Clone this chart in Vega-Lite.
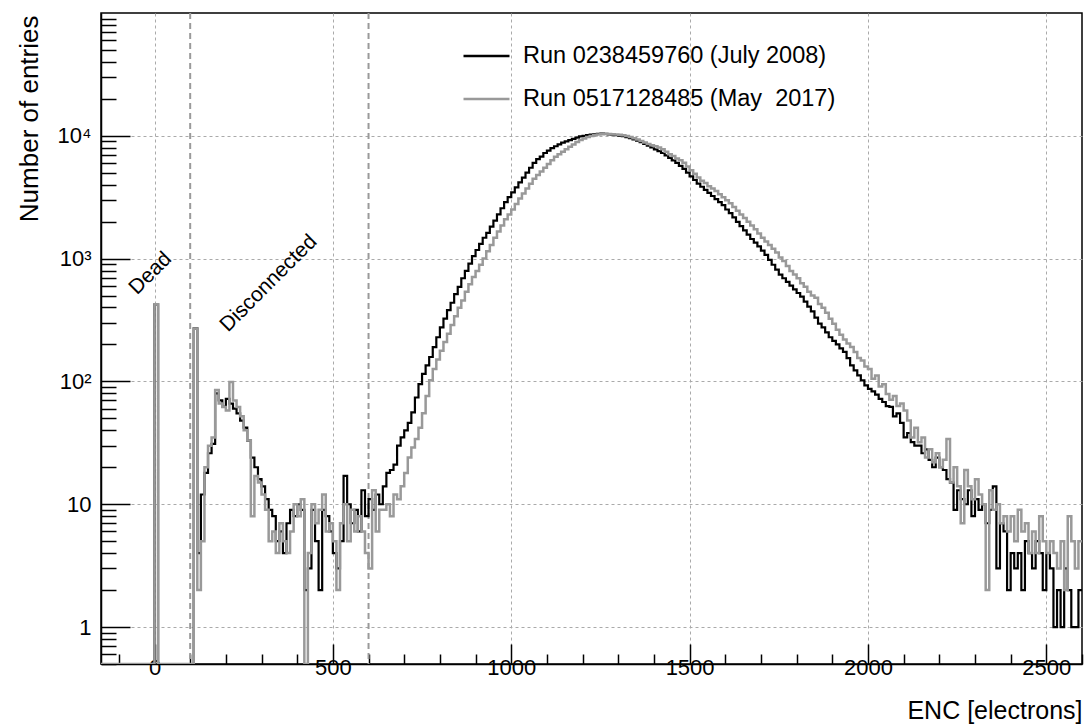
{
  "$schema": "https://vega.github.io/schema/vega-lite/v6.json",
  "width": 981,
  "height": 651,
  "autosize": {"type": "none"},
  "padding": {"left": 101, "top": 13, "right": 4, "bottom": 62},
  "background": "white",
  "config": {
    "font": "Liberation Sans",
    "view": {"stroke": "black", "strokeWidth": 1.5},
    "axis": {"labelFont": "Liberation Sans", "titleFont": "Liberation Sans", "labelColor": "black", "titleColor": "black", "titleFontWeight": "normal", "tickColor": "black", "domainColor": "black"},
    "legend": {"labelFont": "Liberation Sans", "labelColor": "black"}
  },
  "datasets": {
    "hist": [
      {"enc": -150, "a": 0, "b": 0},
      {"enc": 0, "a": 424, "b": 424},
      {"enc": 10, "a": 0, "b": 0},
      {"enc": 110, "a": 270, "b": 270},
      {"enc": 120, "a": 4, "b": 2},
      {"enc": 130, "a": 12, "b": 5},
      {"enc": 140, "a": 18, "b": 20},
      {"enc": 150, "a": 26, "b": 30},
      {"enc": 160, "a": 31, "b": 35},
      {"enc": 170, "a": 80, "b": 85},
      {"enc": 180, "a": 70, "b": 66},
      {"enc": 190, "a": 62, "b": 62},
      {"enc": 200, "a": 72, "b": 58},
      {"enc": 210, "a": 66, "b": 99},
      {"enc": 220, "a": 60, "b": 70},
      {"enc": 230, "a": 55, "b": 62},
      {"enc": 240, "a": 48, "b": 52},
      {"enc": 250, "a": 42, "b": 40},
      {"enc": 260, "a": 33, "b": 33},
      {"enc": 270, "a": 24, "b": 8},
      {"enc": 280, "a": 20, "b": 17},
      {"enc": 290, "a": 16, "b": 15},
      {"enc": 300, "a": 14, "b": 12},
      {"enc": 310, "a": 11, "b": 9},
      {"enc": 320, "a": 9, "b": 5},
      {"enc": 330, "a": 8, "b": 6},
      {"enc": 340, "a": 5, "b": 4},
      {"enc": 350, "a": 6, "b": 7},
      {"enc": 360, "a": 4, "b": 5},
      {"enc": 370, "a": 7, "b": 4},
      {"enc": 380, "a": 9, "b": 6},
      {"enc": 390, "a": 8, "b": 10},
      {"enc": 400, "a": 10, "b": 8},
      {"enc": 410, "a": 9, "b": 11},
      {"enc": 420, "a": 2, "b": 0},
      {"enc": 430, "a": 3, "b": 4},
      {"enc": 440, "a": 9, "b": 10},
      {"enc": 450, "a": 5, "b": 7},
      {"enc": 460, "a": 2, "b": 9},
      {"enc": 470, "a": 9, "b": 12},
      {"enc": 480, "a": 8, "b": 6},
      {"enc": 490, "a": 6, "b": 7},
      {"enc": 500, "a": 4, "b": 5},
      {"enc": 510, "a": 3, "b": 2},
      {"enc": 520, "a": 5, "b": 7},
      {"enc": 530, "a": 17, "b": 10},
      {"enc": 540, "a": 10, "b": 5},
      {"enc": 550, "a": 7, "b": 9},
      {"enc": 560, "a": 9, "b": 6},
      {"enc": 570, "a": 6, "b": 8},
      {"enc": 580, "a": 13, "b": 6},
      {"enc": 590, "a": 8, "b": 4},
      {"enc": 600, "a": 11, "b": 3},
      {"enc": 610, "a": 9, "b": 13},
      {"enc": 620, "a": 12, "b": 6},
      {"enc": 630, "a": 10, "b": 9},
      {"enc": 640, "a": 14, "b": 9},
      {"enc": 650, "a": 18, "b": 10},
      {"enc": 660, "a": 19, "b": 8},
      {"enc": 670, "a": 21, "b": 12},
      {"enc": 680, "a": 30, "b": 11},
      {"enc": 690, "a": 35, "b": 14},
      {"enc": 700, "a": 40, "b": 18},
      {"enc": 710, "a": 46, "b": 24},
      {"enc": 720, "a": 56, "b": 29},
      {"enc": 730, "a": 74, "b": 34},
      {"enc": 740, "a": 95, "b": 42},
      {"enc": 750, "a": 115, "b": 55},
      {"enc": 760, "a": 135, "b": 76},
      {"enc": 770, "a": 158, "b": 102},
      {"enc": 780, "a": 190, "b": 126},
      {"enc": 790, "a": 229, "b": 151},
      {"enc": 800, "a": 275, "b": 178},
      {"enc": 810, "a": 324, "b": 209},
      {"enc": 820, "a": 380, "b": 245},
      {"enc": 830, "a": 437, "b": 288},
      {"enc": 840, "a": 513, "b": 339},
      {"enc": 850, "a": 589, "b": 398},
      {"enc": 860, "a": 692, "b": 457},
      {"enc": 870, "a": 794, "b": 537},
      {"enc": 880, "a": 912, "b": 617},
      {"enc": 890, "a": 1047, "b": 708},
      {"enc": 900, "a": 1175, "b": 794},
      {"enc": 910, "a": 1318, "b": 891},
      {"enc": 920, "a": 1479, "b": 1000},
      {"enc": 930, "a": 1622, "b": 1148},
      {"enc": 940, "a": 1820, "b": 1288},
      {"enc": 950, "a": 2042, "b": 1479},
      {"enc": 960, "a": 2291, "b": 1660},
      {"enc": 970, "a": 2570, "b": 1862},
      {"enc": 980, "a": 2884, "b": 2089},
      {"enc": 990, "a": 3162, "b": 2291},
      {"enc": 1000, "a": 3467, "b": 2512},
      {"enc": 1010, "a": 3802, "b": 2786},
      {"enc": 1020, "a": 4169, "b": 3090},
      {"enc": 1030, "a": 4571, "b": 3388},
      {"enc": 1040, "a": 5012, "b": 3715},
      {"enc": 1050, "a": 5495, "b": 4074},
      {"enc": 1060, "a": 6026, "b": 4467},
      {"enc": 1070, "a": 6457, "b": 4786},
      {"enc": 1080, "a": 6761, "b": 5129},
      {"enc": 1090, "a": 7244, "b": 5495},
      {"enc": 1100, "a": 7586, "b": 5888},
      {"enc": 1110, "a": 7943, "b": 6310},
      {"enc": 1120, "a": 8222, "b": 6761},
      {"enc": 1130, "a": 8511, "b": 7079},
      {"enc": 1140, "a": 8810, "b": 7413},
      {"enc": 1150, "a": 9016, "b": 7762},
      {"enc": 1160, "a": 9226, "b": 8128},
      {"enc": 1170, "a": 9441, "b": 8511},
      {"enc": 1180, "a": 9661, "b": 8913},
      {"enc": 1190, "a": 9886, "b": 9226},
      {"enc": 1200, "a": 10000, "b": 9506},
      {"enc": 1210, "a": 10116, "b": 9772},
      {"enc": 1220, "a": 10233, "b": 9954},
      {"enc": 1230, "a": 10280, "b": 10116},
      {"enc": 1240, "a": 10350, "b": 10233},
      {"enc": 1250, "a": 10400, "b": 10304},
      {"enc": 1260, "a": 10375, "b": 10350},
      {"enc": 1270, "a": 10280, "b": 10327},
      {"enc": 1280, "a": 10230, "b": 10300},
      {"enc": 1290, "a": 10140, "b": 10256},
      {"enc": 1300, "a": 10050, "b": 10186},
      {"enc": 1310, "a": 9950, "b": 10093},
      {"enc": 1320, "a": 9772, "b": 9954},
      {"enc": 1330, "a": 9550, "b": 9772},
      {"enc": 1340, "a": 9333, "b": 9550},
      {"enc": 1350, "a": 9120, "b": 9333},
      {"enc": 1360, "a": 8870, "b": 9078},
      {"enc": 1370, "a": 8610, "b": 8831},
      {"enc": 1380, "a": 8318, "b": 8590},
      {"enc": 1390, "a": 8035, "b": 8395},
      {"enc": 1400, "a": 7762, "b": 8204},
      {"enc": 1410, "a": 7500, "b": 8017},
      {"enc": 1420, "a": 7244, "b": 7762},
      {"enc": 1430, "a": 6918, "b": 7413},
      {"enc": 1440, "a": 6607, "b": 7079},
      {"enc": 1450, "a": 6310, "b": 6839},
      {"enc": 1460, "a": 6026, "b": 6531},
      {"enc": 1470, "a": 5689, "b": 6310},
      {"enc": 1480, "a": 5370, "b": 6026},
      {"enc": 1490, "a": 5012, "b": 5623},
      {"enc": 1500, "a": 4677, "b": 5248},
      {"enc": 1510, "a": 4365, "b": 4898},
      {"enc": 1520, "a": 4074, "b": 4571},
      {"enc": 1530, "a": 3846, "b": 4315},
      {"enc": 1540, "a": 3631, "b": 4121},
      {"enc": 1550, "a": 3428, "b": 3890},
      {"enc": 1560, "a": 3236, "b": 3715},
      {"enc": 1570, "a": 3055, "b": 3548},
      {"enc": 1580, "a": 2884, "b": 3350},
      {"enc": 1590, "a": 2723, "b": 3162},
      {"enc": 1600, "a": 2512, "b": 2985},
      {"enc": 1610, "a": 2344, "b": 2818},
      {"enc": 1620, "a": 2163, "b": 2630},
      {"enc": 1630, "a": 1995, "b": 2455},
      {"enc": 1640, "a": 1841, "b": 2291},
      {"enc": 1650, "a": 1698, "b": 2138},
      {"enc": 1660, "a": 1567, "b": 1995},
      {"enc": 1670, "a": 1445, "b": 1862},
      {"enc": 1680, "a": 1349, "b": 1738},
      {"enc": 1690, "a": 1259, "b": 1603},
      {"enc": 1700, "a": 1161, "b": 1479},
      {"enc": 1710, "a": 1072, "b": 1380},
      {"enc": 1720, "a": 977, "b": 1288},
      {"enc": 1730, "a": 891, "b": 1202},
      {"enc": 1740, "a": 813, "b": 1122},
      {"enc": 1750, "a": 741, "b": 1023},
      {"enc": 1760, "a": 692, "b": 955},
      {"enc": 1770, "a": 646, "b": 871},
      {"enc": 1780, "a": 603, "b": 794},
      {"enc": 1790, "a": 562, "b": 741},
      {"enc": 1800, "a": 525, "b": 692},
      {"enc": 1810, "a": 490, "b": 631},
      {"enc": 1820, "a": 447, "b": 589},
      {"enc": 1830, "a": 407, "b": 537},
      {"enc": 1840, "a": 372, "b": 501},
      {"enc": 1850, "a": 331, "b": 479},
      {"enc": 1860, "a": 295, "b": 427},
      {"enc": 1870, "a": 275, "b": 398},
      {"enc": 1880, "a": 251, "b": 363},
      {"enc": 1890, "a": 229, "b": 324},
      {"enc": 1900, "a": 214, "b": 295},
      {"enc": 1910, "a": 200, "b": 263},
      {"enc": 1920, "a": 186, "b": 240},
      {"enc": 1930, "a": 174, "b": 219},
      {"enc": 1940, "a": 155, "b": 204},
      {"enc": 1950, "a": 135, "b": 191},
      {"enc": 1960, "a": 123, "b": 174},
      {"enc": 1970, "a": 112, "b": 155},
      {"enc": 1980, "a": 102, "b": 148},
      {"enc": 1990, "a": 93, "b": 132},
      {"enc": 2000, "a": 87, "b": 126},
      {"enc": 2010, "a": 83, "b": 105},
      {"enc": 2020, "a": 78, "b": 112},
      {"enc": 2030, "a": 72, "b": 91},
      {"enc": 2040, "a": 68, "b": 95},
      {"enc": 2050, "a": 63, "b": 79},
      {"enc": 2060, "a": 62, "b": 71},
      {"enc": 2070, "a": 52, "b": 76},
      {"enc": 2080, "a": 55, "b": 63},
      {"enc": 2090, "a": 46, "b": 66},
      {"enc": 2100, "a": 35, "b": 58},
      {"enc": 2110, "a": 38, "b": 48},
      {"enc": 2120, "a": 32, "b": 35},
      {"enc": 2130, "a": 30, "b": 42},
      {"enc": 2140, "a": 30, "b": 32},
      {"enc": 2150, "a": 26, "b": 35},
      {"enc": 2160, "a": 28, "b": 24},
      {"enc": 2170, "a": 23, "b": 28},
      {"enc": 2180, "a": 20, "b": 22},
      {"enc": 2190, "a": 24, "b": 26},
      {"enc": 2200, "a": 20, "b": 20},
      {"enc": 2210, "a": 19, "b": 23},
      {"enc": 2220, "a": 16, "b": 34},
      {"enc": 2230, "a": 15, "b": 15},
      {"enc": 2240, "a": 9, "b": 20},
      {"enc": 2250, "a": 13, "b": 14},
      {"enc": 2260, "a": 11, "b": 7},
      {"enc": 2270, "a": 10, "b": 19},
      {"enc": 2280, "a": 13, "b": 14},
      {"enc": 2290, "a": 8, "b": 11},
      {"enc": 2300, "a": 11, "b": 16},
      {"enc": 2310, "a": 9, "b": 12},
      {"enc": 2320, "a": 10, "b": 10},
      {"enc": 2330, "a": 7, "b": 2},
      {"enc": 2340, "a": 9, "b": 13},
      {"enc": 2350, "a": 14, "b": 9},
      {"enc": 2360, "a": 3, "b": 10},
      {"enc": 2370, "a": 7, "b": 7},
      {"enc": 2380, "a": 6, "b": 8},
      {"enc": 2390, "a": 2, "b": 6},
      {"enc": 2400, "a": 4, "b": 8},
      {"enc": 2410, "a": 3, "b": 5},
      {"enc": 2420, "a": 4, "b": 9},
      {"enc": 2430, "a": 2, "b": 6},
      {"enc": 2440, "a": 5, "b": 7},
      {"enc": 2450, "a": 4, "b": 4},
      {"enc": 2460, "a": 3, "b": 6},
      {"enc": 2470, "a": 5, "b": 4},
      {"enc": 2480, "a": 4, "b": 8},
      {"enc": 2490, "a": 2, "b": 5},
      {"enc": 2500, "a": 4, "b": 4},
      {"enc": 2510, "a": 3, "b": 5},
      {"enc": 2520, "a": 1, "b": 4},
      {"enc": 2530, "a": 2, "b": 3},
      {"enc": 2540, "a": 1, "b": 5},
      {"enc": 2550, "a": 3, "b": 2},
      {"enc": 2560, "a": 2, "b": 8},
      {"enc": 2570, "a": 1, "b": 5},
      {"enc": 2580, "a": 1, "b": 3},
      {"enc": 2590, "a": 2, "b": 5},
      {"enc": 2600, "a": 2, "b": 5}
    ],
    "cuts": [{"enc": 100}, {"enc": 600}],
    "notes": [
      {"enc": -11, "n": 757, "label": "Dead"},
      {"enc": 320, "n": 628, "label": "Disconnected"}
    ]
  },
  "layer": [
    {
      "data": {"name": "cuts"},
      "mark": {"type": "rule", "color": "#9a9a9a", "strokeWidth": 2, "strokeDash": [6, 4]},
      "encoding": {
        "x": {"field": "enc", "type": "quantitative", "scale": {"domain": [-150, 2600], "nice": false, "zero": false}, "axis": null}
      }
    },
    {
      "data": {"name": "hist"},
      "mark": {"type": "line", "interpolate": "step-after", "strokeWidth": 2.2, "clip": true, "invalid": "show"},
      "encoding": {
        "x": {
          "field": "enc", "type": "quantitative",
          "scale": {"domain": [-150, 2600], "nice": false, "zero": false},
          "axis": {
            "orient": "bottom",
            "values": [0, 500, 1000, 1500, 2000, 2500],
            "format": "d",
            "grid": true, "gridDash": [3, 3], "gridColor": "#aaaaaa", "gridWidth": 1,
            "tickSize": -20, "tickWidth": 1.5, "domainWidth": 1.5,
            "labelFontSize": 22, "labelPadding": 13, "labelFlush": false,
            "title": "ENC [electrons]", "titleFontSize": 25,
            "titleAnchor": "end", "titleAlign": "right", "titleX": 981, "titleY": 54, "titleBaseline": "alphabetic"
          }
        },
        "y": {
          "field": "a", "type": "quantitative",
          "scale": {"type": "log", "domain": [0.5, 100000], "nice": false, "clamp": true},
          "axis": {
            "orient": "left",
            "values": [1, 10, 100, 1000, 10000],
            "labelExpr": "datum.value == 10000 ? '10⁴' : datum.value == 1000 ? '10³' : datum.value == 100 ? '10²' : datum.value == 10 ? '10' : '1'",
            "grid": true, "gridDash": [3, 3], "gridColor": "#aaaaaa", "gridWidth": 1,
            "tickSize": -29, "tickWidth": 1.5, "domainWidth": 1.5,
            "labelFontSize": 22, "labelPadding": 39,
            "title": "Number of entries", "titleFontSize": 26,
            "titleAngle": -90, "titleAnchor": "end", "titleAlign": "right", "titleBaseline": "alphabetic",
            "titleX": -64, "titleY": 2
          }
        },
        "color": {
          "datum": "Run 0238459760 (July 2008)",
          "scale": {"domain": ["Run 0238459760 (July 2008)", "Run 0517128485 (May  2017)"], "range": ["#000000", "#999999"]},
          "legend": {
            "title": null, "orient": "none", "legendX": 361, "legendY": 31,
            "symbolType": "stroke", "symbolSize": 2116, "symbolStrokeWidth": 2.5,
            "labelFontSize": 23.5, "labelOffset": 12, "labelLimit": 0, "clipHeight": 24, "rowPadding": 19, "padding": 0,
            "labelExpr": "replace(datum.label, 'May  2017', 'May\u00a0 2017')"
          }
        }
      }
    },
    {
      "data": {"name": "hist"},
      "mark": {"type": "line", "interpolate": "step-after", "strokeWidth": 2.5, "clip": true, "invalid": "show"},
      "encoding": {
        "x": {
          "field": "enc", "type": "quantitative",
          "scale": {"domain": [-150, 2600], "nice": false, "zero": false},
          "axis": {
            "orient": "bottom",
            "values": [-100, 100, 200, 300, 400, 600, 700, 800, 900, 1100, 1200, 1300, 1400, 1600, 1700, 1800, 1900, 2100, 2200, 2300, 2400, 2600],
            "grid": false, "labels": false, "domain": false, "title": null,
            "tickSize": -10, "tickWidth": 1.5
          }
        },
        "y": {
          "field": "b", "type": "quantitative",
          "scale": {"type": "log", "domain": [0.5, 100000], "nice": false, "clamp": true},
          "axis": {
            "orient": "left",
            "values": [0.5, 0.6, 0.7, 0.8, 0.9, 2, 3, 4, 5, 6, 7, 8, 9, 20, 30, 40, 50, 60, 70, 80, 90, 200, 300, 400, 500, 600, 700, 800, 900, 2000, 3000, 4000, 5000, 6000, 7000, 8000, 9000, 20000, 30000, 40000, 50000, 60000, 70000, 80000, 90000],
            "grid": false, "labels": false, "domain": false, "title": null,
            "tickSize": -15, "tickWidth": 1.5
          }
        },
        "color": {"datum": "Run 0517128485 (May  2017)"}
      }
    },
    {
      "data": {"name": "notes"},
      "mark": {"type": "text", "angle": 315, "fontSize": 21, "align": "center", "baseline": "middle", "color": "black"},
      "encoding": {
        "x": {"field": "enc", "type": "quantitative", "axis": null},
        "y": {"field": "n", "type": "quantitative", "axis": null},
        "text": {"field": "label"}
      }
    }
  ],
  "resolve": {"axis": {"x": "independent", "y": "independent"}}
}
